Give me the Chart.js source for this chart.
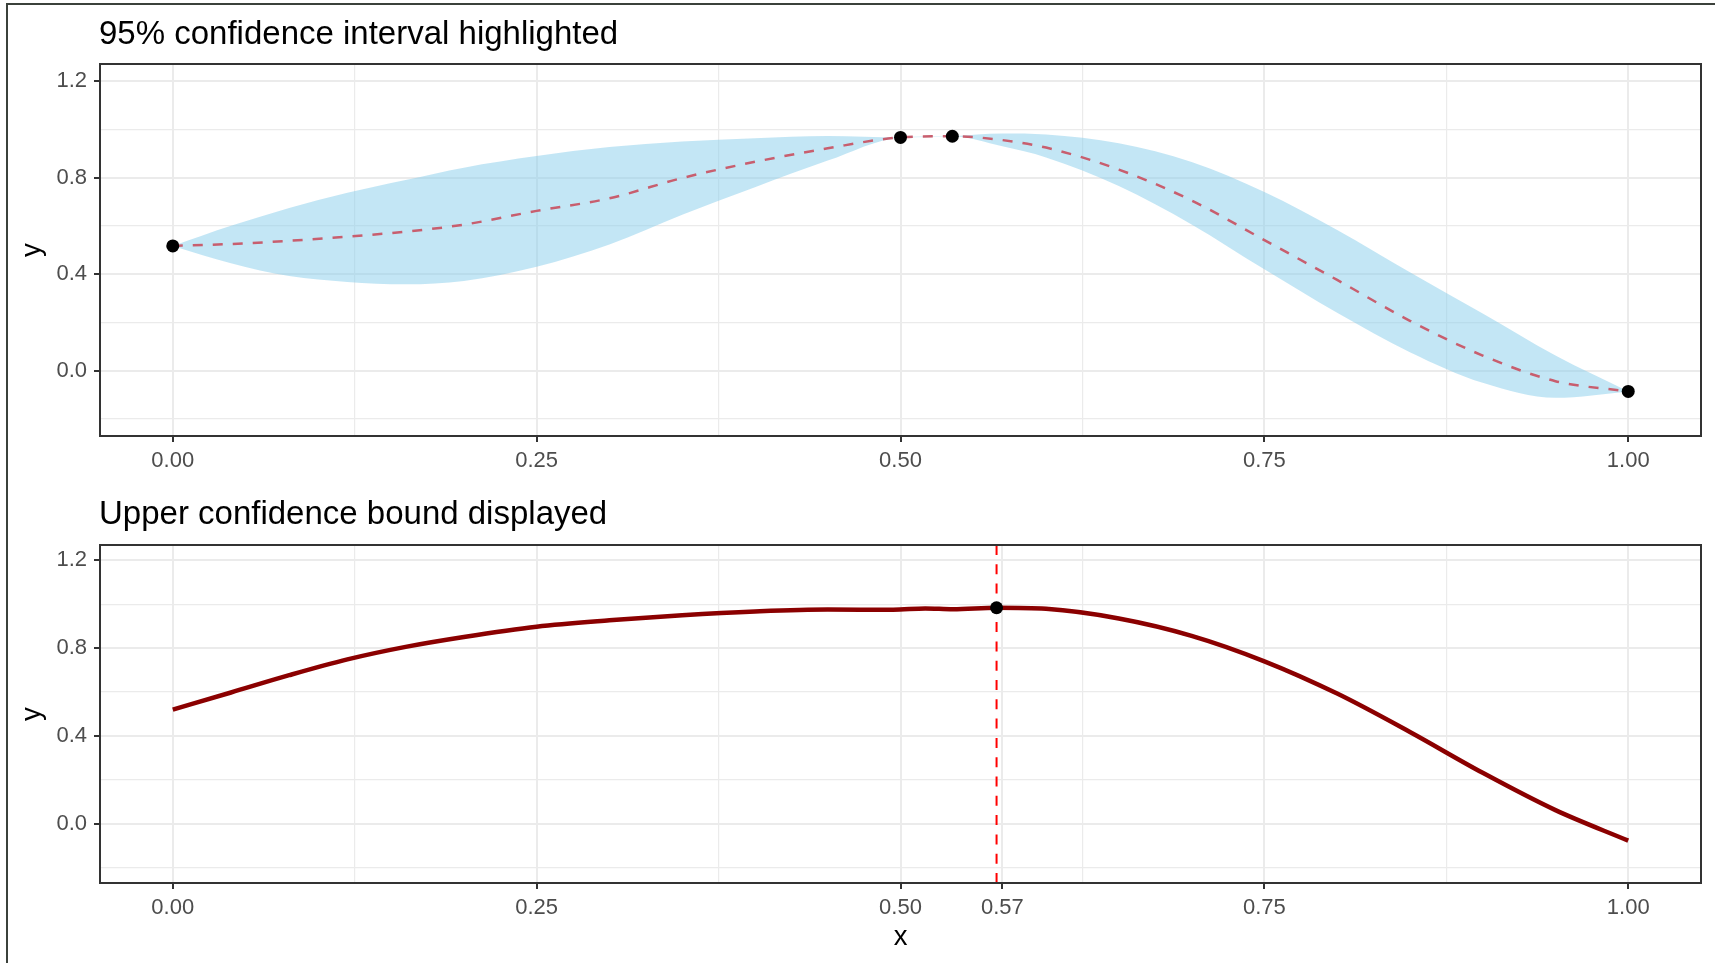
<!DOCTYPE html>
<html><head><meta charset="utf-8">
<script src="https://cdn.jsdelivr.net/npm/chart.js@4.4.1/dist/chart.umd.min.js"></script>
<style>
html,body{margin:0;padding:0;background:#fff;width:1715px;height:963px;overflow:hidden}
#frame{position:absolute;left:6px;top:3px;right:-20px;bottom:-20px;border-left:2.5px solid #3b413b;border-top:2.5px solid #3b413b;}
.panel{position:absolute;left:0;width:1715px}
canvas{display:block}
</style></head><body>
<div id="frame"></div>
<div class="panel" style="top:0;height:480px"><canvas id="c1" width="1715" height="480"></canvas></div>
<div class="panel" style="top:480px;height:483px"><canvas id="c2" width="1715" height="483"></canvas></div>
<script>
// ---------- data ----------
const titleTop = '95% confidence interval highlighted';
const titleBottom = 'Upper confidence bound displayed';

// top panel: GP mean and 95% band
const gridX = [0, 0.04, 0.08, 0.12, 0.16, 0.2, 0.25, 0.3, 0.35, 0.4, 0.45, 0.5, 0.5356, 0.57, 0.6, 0.65, 0.7, 0.75, 0.8, 0.85, 0.9, 0.95, 1.0];
const meanY  = [0.517, 0.525, 0.538, 0.555, 0.576, 0.605, 0.662, 0.714, 0.798, 0.865, 0.921, 0.966, 0.971, 0.955, 0.924, 0.833, 0.705, 0.541, 0.376, 0.207, 0.063, -0.043, -0.0855];
const upperY = [0.517, 0.600, 0.674, 0.737, 0.790, 0.841, 0.889, 0.926, 0.949, 0.963, 0.972, 0.966, 0.971, 0.982, 0.978, 0.942, 0.864, 0.740, 0.583, 0.408, 0.237, 0.063, -0.0855];
const lowerY = [0.517, 0.445, 0.392, 0.368, 0.358, 0.372, 0.431, 0.523, 0.646, 0.760, 0.870, 0.966, 0.971, 0.929, 0.883, 0.765, 0.606, 0.420, 0.240, 0.077, -0.050, -0.112, -0.0855];

// observed points
const obsX = [0, 0.5, 0.5356, 1.0];
const obsY = [0.517, 0.966, 0.971, -0.0855];

// bottom panel: upper confidence bound
const ucbX = [0, 0.04, 0.08, 0.12, 0.16, 0.2, 0.25, 0.3, 0.35, 0.4, 0.45, 0.495, 0.517, 0.536, 0.566, 0.6, 0.65, 0.7, 0.75, 0.8, 0.85, 0.9, 0.95, 1.0];
const ucbY = [0.520, 0.598, 0.677, 0.749, 0.806, 0.851, 0.898, 0.927, 0.950, 0.967, 0.976, 0.975, 0.981, 0.977, 0.984, 0.979, 0.935, 0.856, 0.740, 0.593, 0.418, 0.232, 0.062, -0.077];
const bestX = [0.566];
const bestY = [0.984];

// axes
const xLimits = [-0.05, 1.05];
const yLimits = [-0.27, 1.27];
const xMajorTop = [0, 0.25, 0.5, 0.75, 1.0];
const xLabelsTop = ['0.00', '0.25', '0.50', '0.75', '1.00'];
const xMajorBottom = [0, 0.25, 0.5, 0.57, 0.75, 1.0];
const xLabelsBottom = ['0.00', '0.25', '0.50', '0.57', '0.75', '1.00'];
const xMinor = [0.125, 0.375, 0.625, 0.875];
const yMajor = [0, 0.4, 0.8, 1.2];
const yLabels = ['0.0', '0.4', '0.8', '1.2'];
const yMinor = [-0.2, 0.2, 0.6, 1.0];

// ---------- helpers ----------
const FONT = '"Liberation Sans", Arial, Helvetica, sans-serif';
const pts = (xs, ys) => xs.map((x, i) => ({x: x, y: ys[i]}));
const near = (a, b) => Math.abs(a - b) < 1e-9;
const idxOf = (arr, v) => arr.findIndex(a => near(a, v));

const panelDecor = {
  id: 'panelDecor',
  afterDraw(chart, args, opts) {
    const {ctx, chartArea: a} = chart;
    ctx.save();
    ctx.strokeStyle = '#333333';
    ctx.lineWidth = 2;
    ctx.strokeRect(a.left, a.top, a.right - a.left, a.bottom - a.top);
    ctx.fillStyle = '#000000';
    ctx.font = '33px ' + FONT;
    ctx.textAlign = 'left';
    ctx.textBaseline = 'alphabetic';
    ctx.fillText(opts.text, a.left - 1, 43.5);
    ctx.restore();
  }
};

function axisScales(xMajor, xLabels, xHeight, xTitle) {
  const xAll = xMajor.concat(xMinor).sort((a, b) => a - b);
  const yAll = yMajor.concat(yMinor).sort((a, b) => a - b);
  const gridStyle = (major) => ({
    color: '#EBEBEB',
    lineWidth: (c) => (c.tick && idxOf(major, c.tick.value) >= 0) ? 2 : 1.2,
    tickColor: (c) => (c.tick && idxOf(major, c.tick.value) >= 0) ? '#333333' : 'rgba(0,0,0,0)',
    tickWidth: 2,
    tickLength: 6,
    drawTicks: true,
    drawOnChartArea: true
  });
  return {
    x: {
      type: 'linear', min: xLimits[0], max: xLimits[1],
      afterBuildTicks: (s) => { s.ticks = xAll.map(v => ({value: v})); },
      afterFit: (s) => { s.height = xHeight; },
      ticks: {
        autoSkip: false, maxRotation: 0, padding: 5.5,
        color: '#4D4D4D', font: {family: FONT, size: 22},
        callback: (v) => { const i = idxOf(xMajor, v); return i >= 0 ? xLabels[i] : ''; }
      },
      grid: gridStyle(xMajor),
      border: {display: false},
      title: xTitle ? {display: true, text: 'x', color: '#000', font: {family: FONT, size: 27.5}, padding: {top: 0, bottom: 9}} : {display: false}
    },
    y: {
      type: 'linear', min: yLimits[0], max: yLimits[1],
      afterBuildTicks: (s) => { s.ticks = yAll.map(v => ({value: v})); },
      afterFit: (s) => { s.width = 100; },
      ticks: {
        autoSkip: false, padding: 7,
        color: '#4D4D4D', font: {family: FONT, size: 22},
        callback: (v) => { const i = idxOf(yMajor, v); return i >= 0 ? yLabels[i] : ''; }
      },
      grid: gridStyle(yMajor),
      border: {display: false},
      title: {display: true, text: 'y', color: '#000', font: {family: FONT, size: 27.5}, padding: {top: 16, bottom: 0}}
    }
  };
}

const baseOpts = (title, scales, topPad) => ({
  responsive: false,
  animation: false,
  events: [],
  devicePixelRatio: 1,
  layout: {padding: {top: topPad, right: 14, left: 0, bottom: 0}},
  plugins: {legend: {display: false}, tooltip: {enabled: false}, panelDecor: {text: title}},
  scales: scales,
  elements: {line: {cubicInterpolationMode: 'monotone'}}
});

// ---------- top chart ----------
new Chart(document.getElementById('c1'), {
  type: 'line',
  data: {
    datasets: [
      {label: 'upper', data: pts(gridX, upperY), borderWidth: 0, borderColor: 'rgba(0,0,0,0)', pointRadius: 0,
       fill: '+1', backgroundColor: 'rgba(135,206,235,0.5)', order: 3},
      {label: 'lower', data: pts(gridX, lowerY), borderWidth: 0, borderColor: 'rgba(0,0,0,0)', pointRadius: 0,
       fill: false, order: 4},
      {label: 'mean', data: pts(gridX, meanY), borderColor: 'rgb(200,94,110)', borderWidth: 2.5, borderDash: [10, 10],
       pointRadius: 0, fill: false, order: 2},
      {label: 'observed', data: pts(obsX, obsY), showLine: false, pointRadius: 6.5, pointBackgroundColor: '#000',
       pointBorderWidth: 0, order: 1}
    ]
  },
  options: baseOpts(titleTop, axisScales(xMajorTop, xLabelsTop, 44, false), 64),
  plugins: [panelDecor]
});

// ---------- bottom chart ----------
new Chart(document.getElementById('c2'), {
  type: 'line',
  data: {
    datasets: [
      {label: 'ucb', data: pts(ucbX, ucbY), borderColor: '#8B0000', borderWidth: 4.5, pointRadius: 0, fill: false, order: 3},
      {label: 'best', data: [{x: bestX[0], y: yLimits[0]}, {x: bestX[0], y: yLimits[1]}], borderColor: '#FF0000',
       borderWidth: 2, borderDash: [10, 9.3], pointRadius: 0, fill: false, order: 2, cubicInterpolationMode: 'default', tension: 0},
      {label: 'bestPoint', data: pts(bestX, bestY), showLine: false, pointRadius: 6.5, pointBackgroundColor: '#000',
       pointBorderWidth: 0, order: 1}
    ]
  },
  options: baseOpts(titleBottom, axisScales(xMajorBottom, xLabelsBottom, 80, true), 65),
  plugins: [panelDecor]
});
</script>
</body></html>
